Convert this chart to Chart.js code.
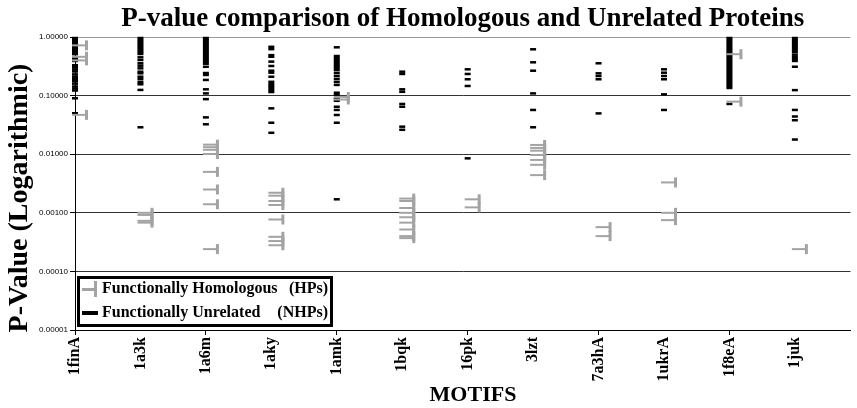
<!DOCTYPE html>
<html lang="en">
<head>
<meta charset="UTF-8">
<title>P-value comparison of Homologous and Unrelated Proteins</title>
<style>
  html, body { margin: 0; padding: 0; background: #fff; }
</style>
</head>
<body>
<canvas id="pvalueChart" width="857" height="408"></canvas>

<script src="https://cdn.jsdelivr.net/npm/chart.js@4.4.1/dist/chart.umd.min.js"></script>
<script>
const motifs = ['1finA', '1a3k', '1a6m', '1aky', '1amk', '1bqk', '16pk', '3lzt', '7a3hA', '1ukrA', '1f8eA', '1juk'];

// functionally homologous proteins (grey markers), one list per motif
const hpValues = [
    [0.72, 0.46, 0.40, 0.047],
    [0.001, 0.00092, 0.00073, 0.00068],
    [0.0146, 0.0132, 0.0119, 0.0101, 0.005, 0.0025, 0.0014, 0.00024],
    [0.0022, 0.00196, 0.00159, 0.00136, 0.00077, 0.00039, 0.00033, 0.00028],
    [0.095, 0.086],
    [0.00175, 0.00159, 0.00121, 0.001, 0.00084, 0.00068, 0.00052, 0.0004, 0.00037],
    [0.0017, 0.00124],
    [0.0144, 0.0128, 0.0115, 0.0097, 0.008, 0.0066, 0.0044],
    [0.00057, 0.0004],
    [0.0033, 0.001, 0.00075],
    [0.51, 0.079],
    [0.00024]
];

// functionally unrelated proteins (black dashes)
const nhpValues = [
    [0.961, 0.889, 0.822, 0.76, 0.702, 0.649, 0.60, 0.555, 0.513, 0.456, 0.42, 0.39, 0.33, 0.305, 0.28, 0.258,
     0.23, 0.21, 0.19, 0.176, 0.16, 0.143, 0.132, 0.122, 0.09, 0.05],
    [0.961, 0.889, 0.822, 0.76, 0.702, 0.649, 0.60, 0.555, 0.513, 0.45, 0.405, 0.356, 0.324, 0.292, 0.256, 0.24,
     0.21, 0.19, 0.169, 0.156, 0.125, 0.0288],
    [0.961, 0.889, 0.822, 0.76, 0.702, 0.649, 0.60, 0.555, 0.513, 0.474, 0.438, 0.405, 0.374, 0.35, 0.31, 0.243,
     0.225, 0.185, 0.128, 0.109, 0.087, 0.0425, 0.0324],
    [0.68, 0.62, 0.49, 0.46, 0.38, 0.32, 0.266, 0.246, 0.21, 0.172, 0.158, 0.146, 0.135, 0.124, 0.115, 0.0606, 0.0344, 0.0232],
    [0.667, 0.474, 0.438, 0.405, 0.374, 0.346, 0.32, 0.296, 0.273, 0.243, 0.216, 0.192, 0.171, 0.152, 0.112, 0.103,
     0.09, 0.0815, 0.0645, 0.0569, 0.0467, 0.0344, 0.0017],
    [0.256, 0.234, 0.128, 0.116, 0.072, 0.0645, 0.0295, 0.0261],
    [0.281, 0.234, 0.19, 0.146, 0.0085],
    [0.617, 0.37, 0.266, 0.109, 0.0569, 0.0288],
    [0.356, 0.24, 0.216, 0.19, 0.0497],
    [0.281, 0.246, 0.216, 0.19, 0.105, 0.0569],
    [0.961, 0.889, 0.822, 0.76, 0.702, 0.649, 0.60, 0.555, 0.513, 0.474, 0.438, 0.405, 0.374, 0.346, 0.32, 0.296,
     0.273, 0.253, 0.234, 0.216, 0.20, 0.185, 0.171, 0.158, 0.146, 0.135, 0.072],
    [0.961, 0.889, 0.822, 0.76, 0.702, 0.649, 0.60, 0.555, 0.50, 0.46, 0.425, 0.39, 0.311, 0.124, 0.0569, 0.044,
     0.038, 0.0178]
];

const yTicks = [1, 0.1, 0.01, 0.001, 0.0001, 0.00001];

const GREY = '#a3a3a3';

function toPoints(groups) {
    const pts = [];
    groups.forEach((vals, i) => vals.forEach(v => pts.push({ x: i, y: v })));
    return pts;
}

// grey marker: short dash with a cap on its right end
function hpMarker() {
    const c = document.createElement('canvas');
    c.width = 32;
    c.height = 12;
    const g = c.getContext('2d');
    g.fillStyle = GREY;
    g.fillRect(13, 5, 14, 2);
    g.fillRect(26, 1, 3, 10);
    return c;
}

// axis titles and the boxed legend in the lower left corner
const chartText = {
    id: 'chartText',
    afterDraw(chart) {
        const c = chart.ctx;
        const area = chart.chartArea;
        c.save();
        c.fillStyle = '#000';

        c.font = 'bold 28px "Liberation Serif"';
        c.textAlign = 'center';
        c.textBaseline = 'alphabetic';
        c.translate(27, 198);
        c.rotate(-Math.PI / 2);
        c.fillText('P-Value (Logarithmic)', 0, 0);
        c.setTransform(1, 0, 0, 1, 0, 0);

        c.font = 'bold 22px "Liberation Serif"';
        c.textBaseline = 'middle';
        c.fillText('MOTIFS', 473, 395);

        const left = area.left + 2;
        const top = area.bottom - 54;
        c.fillStyle = '#fff';
        c.fillRect(left, top, 256, 51);
        c.lineWidth = 3;
        c.strokeStyle = '#000';
        c.strokeRect(left + 1.5, top + 1.5, 253, 48);

        c.fillStyle = GREY;
        c.fillRect(left + 5, top + 12, 14, 3);
        c.fillRect(left + 17, top + 5, 3, 16);
        c.fillStyle = '#000';
        c.fillRect(left + 5, top + 35, 16, 4);

        c.font = 'bold 16px "Liberation Serif"';
        c.textAlign = 'left';
        c.fillText('Functionally Homologous', left + 25, top + 13);
        c.fillText('Functionally Unrelated', left + 25, top + 37);
        c.textAlign = 'right';
        c.fillText('(HPs)', left + 251, top + 13);
        c.fillText('(NHPs)', left + 251, top + 37);
        c.restore();
    }
};

const ctx = document.getElementById('pvalueChart').getContext('2d');
new Chart(ctx, {
    type: 'scatter',
    data: {
        datasets: [
            {
                label: 'Functionally Homologous (HPs)',
                data: toPoints(hpValues),
                pointStyle: hpMarker(),
                order: 0,
                clip: false
            },
            {
                label: 'Functionally Unrelated (NHPs)',
                data: toPoints(nhpValues),
                pointStyle: 'line',
                pointRadius: 3,
                pointBorderWidth: 2.5,
                pointBorderColor: '#000',
                pointBackgroundColor: '#000',
                order: 1,
                clip: false
            }
        ]
    },
    options: {
        responsive: false,
        animation: false,
        events: [],
        layout: { padding: 0 },
        plugins: {
            legend: { display: false },
            tooltip: { enabled: false },
            title: {
                display: true,
                fullSize: false,
                text: 'P-value comparison of Homologous and Unrelated Proteins',
                color: '#000',
                font: { family: 'Liberation Serif', size: 27, weight: 'bold' },
                padding: { top: 3, bottom: 1.6 }
            }
        },
        scales: {
            x: {
                type: 'linear',
                min: 0,
                max: 11.85,
                afterFit: s => { s.height = 78; },
                ticks: {
                    stepSize: 1,
                    includeBounds: false,
                    autoSkip: false,
                    minRotation: 90,
                    maxRotation: 90,
                    padding: 2,
                    color: '#000',
                    font: { family: 'Liberation Serif', size: 16, weight: 'bold' },
                    callback: v => motifs[v] ?? ''
                },
                grid: {
                    drawOnChartArea: false,
                    tickLength: 5,
                    tickColor: c => (c.index % 2 === 0 ? '#000' : 'rgba(0,0,0,0)')
                },
                border: { color: '#000', width: 1 }
            },
            y: {
                type: 'logarithmic',
                min: 0.00001,
                max: 1,
                afterFit: s => { s.width = 75; },
                afterBuildTicks: s => { s.ticks = yTicks.map(v => ({ value: v })); },
                ticks: {
                    autoSkip: false,
                    padding: 2,
                    color: '#000',
                    font: { family: 'Liberation Sans', size: 8 },
                    callback: v => Number(v).toFixed(5)
                },
                grid: {
                    color: c => (c.tick && c.tick.value === 1 ? '#9a9a9a' : '#333'),
                    tickLength: 5,
                    tickColor: '#000'
                },
                border: { color: '#000', width: 1 }
            }
        }
    },
    plugins: [chartText]
});
</script>
</body>
</html>
